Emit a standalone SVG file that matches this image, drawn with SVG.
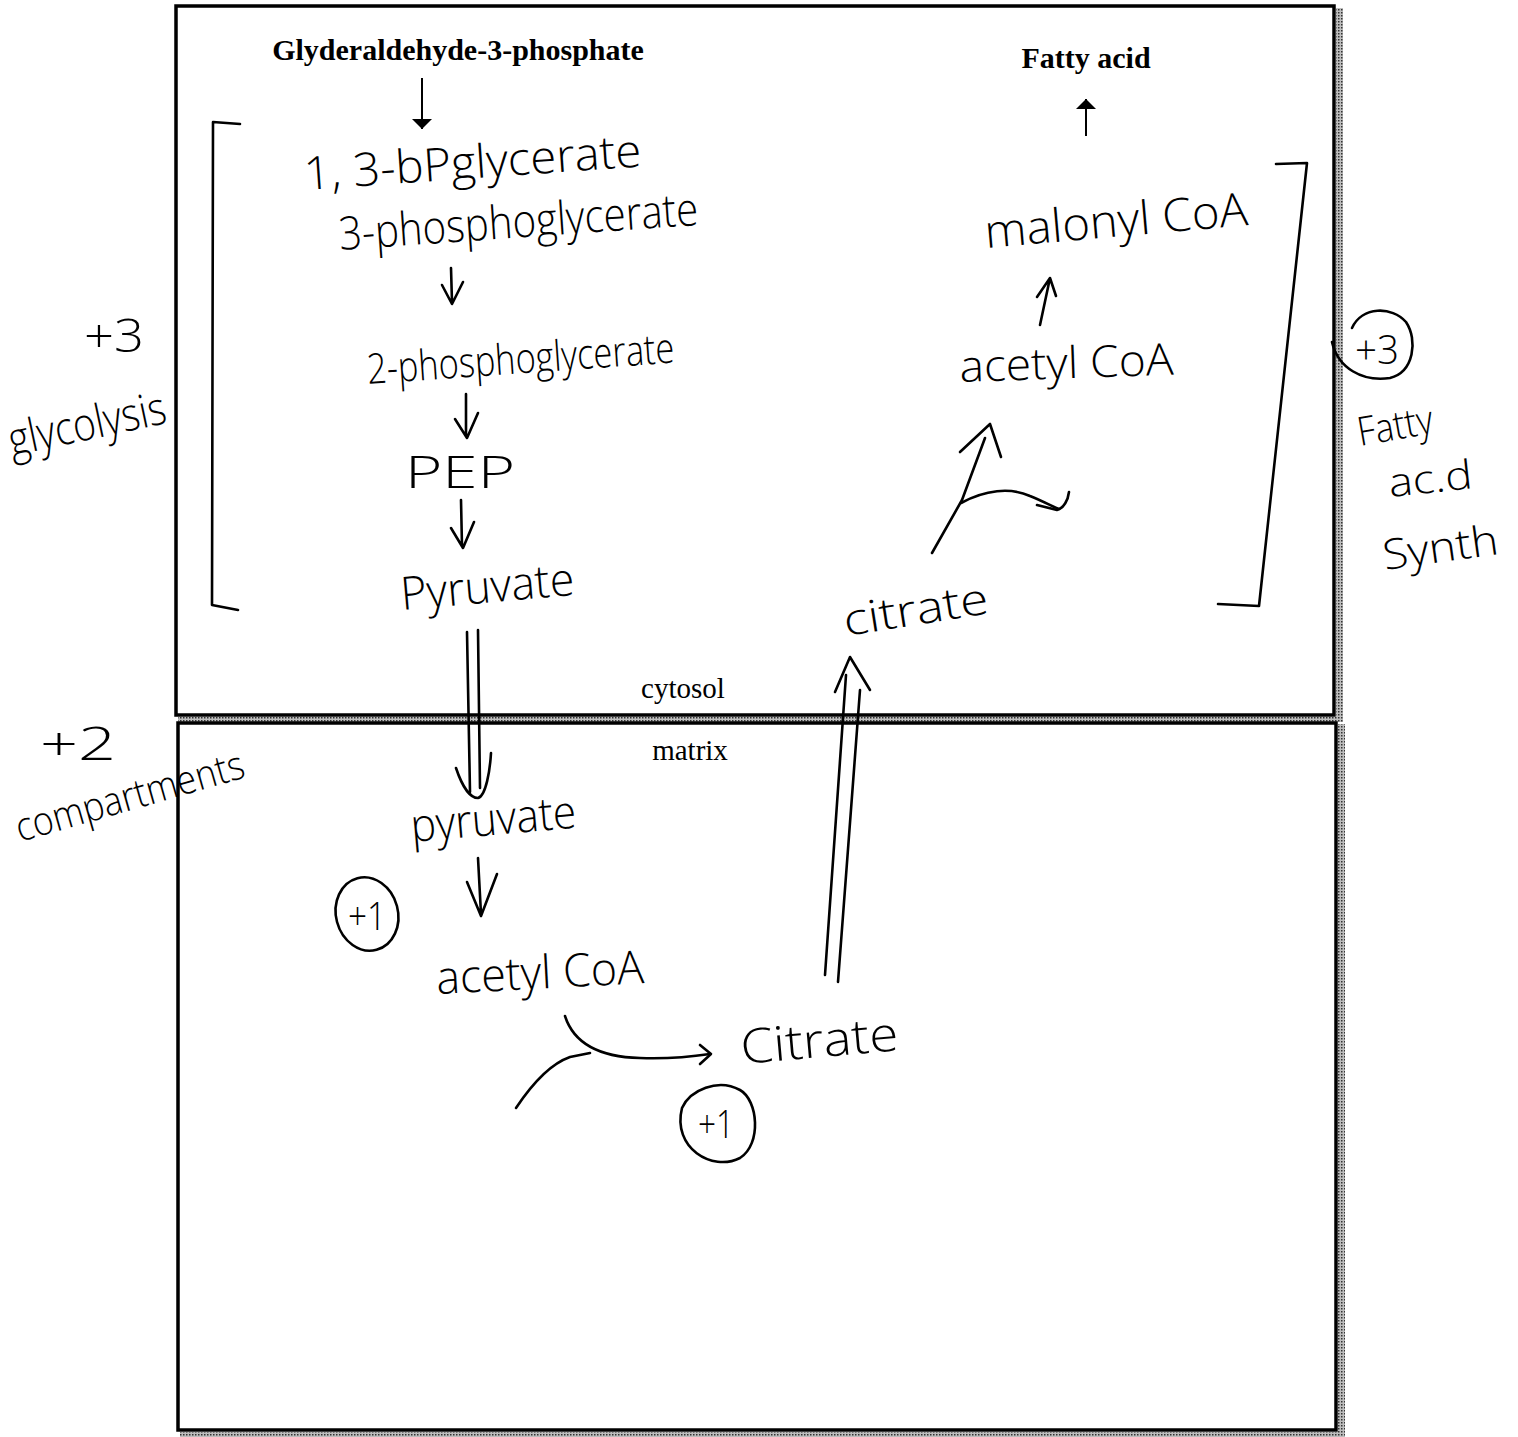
<svg xmlns="http://www.w3.org/2000/svg" width="1518" height="1437" viewBox="0 0 1518 1437">
  <style>
    .print { font-family: "Liberation Serif", "Times New Roman", serif; fill: #000; }
    .bold { font-weight: bold; font-size: 30px; }
    .label { font-size: 29px; }
    .hw { font-family: "Open Sans", "DejaVu Sans", sans-serif; font-weight: 300; fill: #000; }
    .pen { fill: none; stroke: #000; stroke-width: 2.6; stroke-linecap: round; stroke-linejoin: round; }
    .box { fill: #fff; stroke: #000; stroke-width: 3.5; }
    .shade { fill: url(#dots); }
  </style>
  <defs>
    <!-- halftone shading used for the box shadows -->
    <pattern id="dots" width="3" height="3" patternUnits="userSpaceOnUse">
      <rect width="3" height="3" fill="#bdbdbd"/>
      <rect width="1.5" height="1.5" fill="#333"/>
    </pattern>
    <marker id="tri" viewBox="0 0 10 20" refX="10" refY="10" markerWidth="11" markerHeight="20" markerUnits="userSpaceOnUse" orient="auto">
      <path d="M0,0 L10,10 L0,20 Z" fill="#000"/>
    </marker>
  </defs>

  <rect width="1518" height="1437" fill="#fff"/>

  <!-- compartments -->
  <g id="cytosol-box">
    <rect class="shade" x="1336" y="8" width="7" height="714"/>
    <rect class="shade" x="178" y="717" width="1165" height="5"/>
    <rect class="box" x="176" y="6" width="1158" height="709"/>
    <text class="print label" x="683" y="698" text-anchor="middle">cytosol</text>
  </g>
  <g id="matrix-box">
    <rect class="shade" x="1338" y="724" width="7" height="713"/>
    <rect class="shade" x="180" y="1432" width="1165" height="5"/>
    <rect class="box" x="178" y="723" width="1158" height="707"/>
    <text class="print label" x="690" y="760" text-anchor="middle">matrix</text>
  </g>

  <!-- printed endpoints -->
  <g id="g3p">
    <text class="print bold" x="458" y="60" text-anchor="middle">Glyderaldehyde-3-phosphate</text>
  </g>
  <g id="fatty-acid">
    <text class="print bold" x="1086" y="68" text-anchor="middle">Fatty acid</text>
  </g>

  <!-- glycolysis intermediates -->
  <g id="bpg">
    <text class="hw" x="305" y="190" font-size="46" textLength="338" lengthAdjust="spacingAndGlyphs" transform="rotate(-4 305 190)">1, 3-bPglycerate</text>
  </g>
  <g id="pg3">
    <text class="hw" x="340" y="250" font-size="46" textLength="360" lengthAdjust="spacingAndGlyphs" transform="rotate(-4 340 250)">3-phosphoglycerate</text>
  </g>
  <g id="pg2">
    <text class="hw" x="368" y="384" font-size="42" textLength="308" lengthAdjust="spacingAndGlyphs" transform="rotate(-4 368 384)">2-phosphoglycerate</text>
  </g>
  <g id="pep">
    <text class="hw" x="405" y="488" font-size="44" textLength="110" lengthAdjust="spacingAndGlyphs">PEP</text>
  </g>
  <g id="pyruvate-cyt">
    <text class="hw" x="402" y="610" font-size="46" textLength="174" lengthAdjust="spacingAndGlyphs" transform="rotate(-5 402 610)">Pyruvate</text>
  </g>

  <!-- matrix intermediates -->
  <g id="pyruvate-mat">
    <text class="hw" x="412" y="842" font-size="46" textLength="166" lengthAdjust="spacingAndGlyphs" transform="rotate(-5 412 842)">pyruvate</text>
  </g>
  <g id="acetylcoa-mat">
    <text class="hw" x="437" y="994" font-size="46" textLength="208" lengthAdjust="spacingAndGlyphs" transform="rotate(-3 437 994)">acetyl CoA</text>
  </g>
  <g id="citrate-mat">
    <text class="hw" x="742" y="1064" font-size="48" textLength="158" lengthAdjust="spacingAndGlyphs" transform="rotate(-5 742 1064)">Citrate</text>
  </g>

  <!-- fatty acid synthesis intermediates -->
  <g id="citrate-cyt">
    <text class="hw" x="846" y="636" font-size="44" textLength="146" lengthAdjust="spacingAndGlyphs" transform="rotate(-9 846 636)">citrate</text>
  </g>
  <g id="acetylcoa-cyt">
    <text class="hw" x="960" y="382" font-size="44" textLength="214" lengthAdjust="spacingAndGlyphs" transform="rotate(-2 960 382)">acetyl CoA</text>
  </g>
  <g id="malonylcoa">
    <text class="hw" x="986" y="248" font-size="46" textLength="264" lengthAdjust="spacingAndGlyphs" transform="rotate(-5 986 248)">malonyl CoA</text>
  </g>

  <!-- margin scores -->
  <g id="score-glycolysis">
    <text class="hw" x="84" y="352" font-size="46" textLength="60" lengthAdjust="spacingAndGlyphs">+3</text>
    <text class="hw" x="12" y="456" font-size="46" textLength="160" lengthAdjust="spacingAndGlyphs" transform="rotate(-12 12 456)">glycolysis</text>
  </g>
  <g id="score-compartments">
    <text class="hw" x="40" y="760" font-size="46" textLength="76" lengthAdjust="spacingAndGlyphs">+2</text>
    <text class="hw" x="20" y="842" font-size="40" textLength="236" lengthAdjust="spacingAndGlyphs" transform="rotate(-16 20 842)">compartments</text>
  </g>
  <g id="score-fas">
    <path class="pen" d="M1332,342 C1338,368 1362,382 1390,378 C1414,372 1418,340 1406,322 C1392,306 1362,306 1352,328"/>
    <text class="hw" x="1355" y="364" font-size="40" textLength="44" lengthAdjust="spacingAndGlyphs">+3</text>
    <text class="hw" x="1360" y="446" font-size="40" textLength="76" lengthAdjust="spacingAndGlyphs" transform="rotate(-10 1360 446)">Fatty</text>
    <text class="hw" x="1390" y="497" font-size="40" textLength="84" lengthAdjust="spacingAndGlyphs" transform="rotate(-6 1390 497)">ac.d</text>
    <text class="hw" x="1385" y="570" font-size="42" textLength="116" lengthAdjust="spacingAndGlyphs" transform="rotate(-8 1385 570)">Synth</text>
  </g>
  <g id="score-pdh">
    <ellipse class="pen" cx="367" cy="914" rx="31" ry="37" transform="rotate(-15 367 914)"/>
    <text class="hw" x="348" y="930" font-size="38" textLength="38" lengthAdjust="spacingAndGlyphs">+1</text>
  </g>
  <g id="score-cs">
    <path class="pen" d="M682,1108 C672,1148 712,1172 740,1158 C762,1144 758,1100 740,1090 C718,1078 690,1090 682,1108"/>
    <text class="hw" x="698" y="1138" font-size="38" textLength="36" lengthAdjust="spacingAndGlyphs">+1</text>
  </g>

  <!-- brackets round the two pathways -->
  <g id="brackets">
    <path class="pen" d="M240,124 L213,122 L212,605 L238,610"/>
    <path class="pen" d="M1276,164 L1307,163 L1259,606 L1218,604"/>
  </g>

  <!-- connectors -->
  <g id="connectors">
    <!-- printed arrows -->
    <line x1="422" y1="78" x2="422" y2="129" stroke="#000" stroke-width="2" marker-end="url(#tri)"/>
    <line x1="1086" y1="136" x2="1086" y2="99" stroke="#000" stroke-width="2" marker-end="url(#tri)"/>

    <!-- glycolysis steps -->
    <path class="pen" d="M451,268 L452,302 M442,285 L452,304 L463,282"/>
    <path class="pen" d="M466,394 L466,436 M455,419 L467,438 L478,413"/>
    <path class="pen" d="M461,500 L462,546 M451,528 L463,548 L474,522"/>

    <!-- pyruvate transport into the matrix -->
    <path class="pen" d="M467,632 L470,792 M478,630 L480,788"/>
    <path class="pen" d="M456,768 C462,786 470,798 478,798 C486,796 490,770 491,753"/>

    <!-- pyruvate to acetyl CoA -->
    <path class="pen" d="M478,858 L481,914 M467,882 L481,916 M481,916 L497,874"/>

    <!-- acetyl CoA + OAA to citrate -->
    <path class="pen" d="M565,1016 C574,1044 600,1057 640,1058 C670,1059 690,1057 710,1054"/>
    <path class="pen" d="M700,1045 L711,1054 L700,1064"/>
    <path class="pen" d="M516,1108 C532,1084 550,1064 570,1057 L590,1053"/>

    <!-- citrate transport out to the cytosol -->
    <path class="pen" d="M825,975 L846,675 M838,982 L860,690"/>
    <path class="pen" d="M835,692 L850,657 L870,690"/>

    <!-- citrate lyase: acetyl CoA + OAA -->
    <path class="pen" d="M932,553 L962,500 L985,438"/>
    <path class="pen" d="M960,452 L990,424 L1001,457"/>
    <path class="pen" d="M961,503 C985,490 1010,487 1030,496 C1045,502 1055,508 1059,509"/>
    <path class="pen" d="M1037,505 L1057,510 C1064,508 1068,500 1069,492"/>

    <!-- acetyl CoA to malonyl CoA -->
    <path class="pen" d="M1040,325 L1050,278 M1037,297 L1050,278 L1056,296"/>
  </g>
</svg>
